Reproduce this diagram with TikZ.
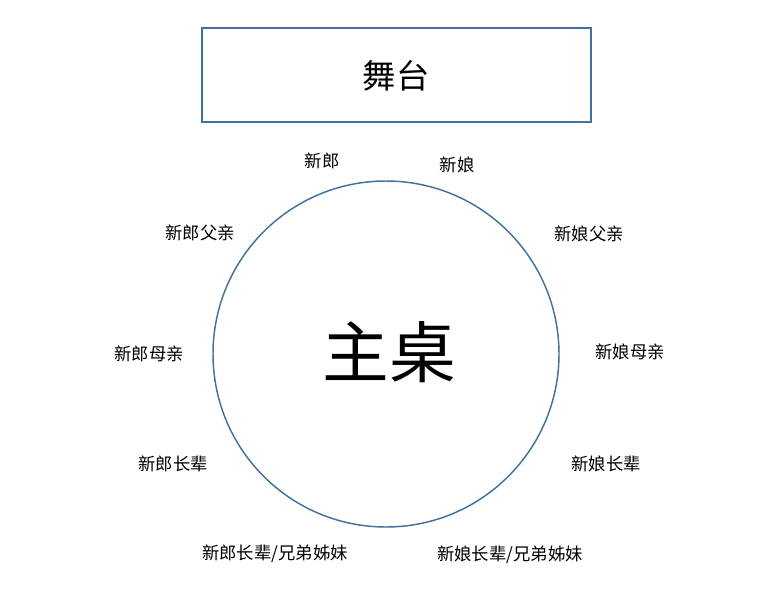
\documentclass[tikz,border=0pt]{standalone}
\usepackage{fontspec}
\setmainfont{Noto Sans CJK SC}
\begin{document}
\begin{tikzpicture}[x=0.75pt,y=-0.75pt,
  seat/.style={font=\fontsize{13}{15}\selectfont}]
\definecolor{frame}{RGB}{65,113,156}
\useasboundingbox (0,0) rectangle (768,603);
% draw stage
\draw[frame,line width=1.6pt] (202,28) rectangle (591,122);
\node (stage) at (396,76) {\fontsize{25}{28}\selectfont 舞台};
% draw main table
\draw[frame,line width=1.1pt] (386,354) circle (173);
\node (table) at (389,352) {\fontsize{50}{56}\selectfont 主桌};
% draw seat labels
\node[seat] (groom) at (322,161) {新郎};
\node[seat] (bride) at (457,165) {新娘};
\node[seat] (gfather) at (200,233) {新郎父亲};
\node[seat] (bfather) at (589,234) {新娘父亲};
\node[seat] (gmother) at (149,354) {新郎母亲};
\node[seat] (bmother) at (630,352) {新娘母亲};
\node[seat] (gelder) at (173,464) {新郎长辈};
\node[seat] (belder) at (606,464) {新娘长辈};
\node[seat] (gsibling) at (275,554) {新郎长辈/兄弟姊妹};
\node[seat] (bsibling) at (510,555) {新娘长辈/兄弟姊妹};
\end{tikzpicture}
\end{document}
